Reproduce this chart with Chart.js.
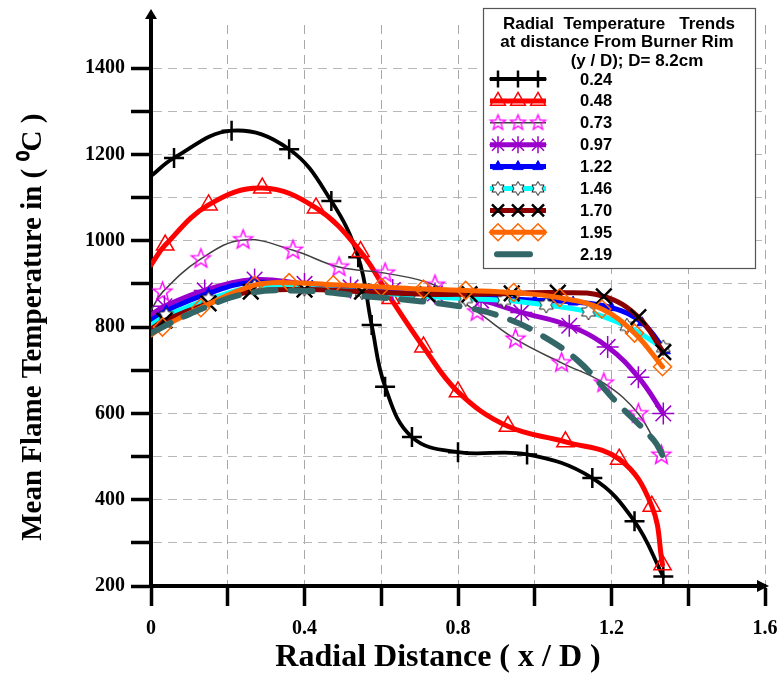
<!DOCTYPE html>
<html>
<head>
<meta charset="utf-8">
<script src="https://cdn.jsdelivr.net/npm/chart.js@4/dist/chart.umd.min.js"></script>
<style>
  html, body { margin: 0; padding: 0; background: #fff; }
  #wrap { position: relative; width: 779px; height: 677px; }
</style>
</head>
<body>
<div id="wrap"><canvas id="chart" width="779" height="677"></canvas></div>
<script>
// y / D levels shown in the legend
const levels = ['0.24', '0.48', '0.73', '0.97', '1.22', '1.46', '1.70', '1.95', '2.19'];

// radial distance x / D and temperature (deg C) for each level
const x024 = [0, 0.06, 0.21, 0.36, 0.47, 0.54, 0.575, 0.61, 0.68, 0.80, 0.98, 1.15, 1.26, 1.335];
const t024 = [1150, 1192, 1255, 1212, 1092, 962, 805, 662, 545, 510, 505, 450, 350, 222];

const x048 = [0, 0.037, 0.15, 0.29, 0.43, 0.546, 0.625, 0.71, 0.80, 0.93, 1.08, 1.22, 1.305, 1.333];
const t048 = [944, 990, 1083, 1122, 1076, 975, 866, 754, 650, 570, 534, 494, 385, 249];

const x073 = [0, 0.03, 0.13, 0.24, 0.37, 0.49, 0.61, 0.74, 0.85, 0.95, 1.07, 1.18, 1.27, 1.33];
const t073 = [839, 881, 958, 1002, 978, 939, 925, 897, 835, 772, 717, 670, 599, 503];

const x097 = [0, 0.035, 0.14, 0.27, 0.40, 0.52, 0.63, 0.74, 0.86, 0.965, 1.09, 1.19, 1.27, 1.335];
const t097 = [828, 848, 885, 910, 900, 892, 886, 878, 862, 834, 803, 754, 684, 600];

const x122 = [0, 0.04, 0.15, 0.26, 0.42, 0.59, 0.74, 0.88, 1.0, 1.1, 1.2, 1.28, 1.34];
const t122 = [815, 838, 878, 903, 895, 885, 875, 868, 862, 858, 845, 810, 745];

const x146 = [0, 0.04, 0.15, 0.27, 0.40, 0.55, 0.70, 0.82, 0.92, 1.03, 1.14, 1.24, 1.335];
const t146 = [805, 826, 864, 893, 890, 882, 872, 866, 862, 851, 835, 802, 752];

const x170 = [0, 0.035, 0.15, 0.26, 0.40, 0.55, 0.72, 0.83, 0.94, 1.06, 1.18, 1.27, 1.335];
const t170 = [795, 815, 855, 882, 887, 882, 876, 876, 878, 880, 871, 823, 742];

const x195 = [0, 0.03, 0.13, 0.27, 0.36, 0.475, 0.60, 0.71, 0.82, 0.945, 1.065, 1.175, 1.26, 1.333];
const t195 = [782, 800, 845, 897, 903, 898, 893, 888, 885, 880, 868, 842, 786, 708];

const x219 = [0, 0.1, 0.25, 0.4, 0.55, 0.7, 0.83, 0.92, 1.0, 1.11, 1.215, 1.31, 1.335];
const t219 = [786, 830, 878, 884, 872, 860, 844, 822, 790, 724, 624, 538, 500];

const yTickLabels = [200, 400, 600, 800, 1000, 1200, 1400];
const xTickLabels = [0, 0.4, 0.8, 1.2, 1.6];

function zip(xs, ys) {
  return xs.map((x, i) => ({ x: x, y: ys[i] }));
}

// custom marker shapes
function starCanvas(points, outer, inner, stroke, fill, lw) {
  const c = document.createElement('canvas');
  const s = Math.ceil(outer * 2 + lw * 2 + 2);
  c.width = s; c.height = s;
  const g = c.getContext('2d');
  g.beginPath();
  for (let i = 0; i < points * 2; i++) {
    const r = i % 2 === 0 ? outer : inner;
    const a = -Math.PI / 2 + i * Math.PI / points;
    const px = s / 2 + r * Math.cos(a);
    const py = s / 2 + r * Math.sin(a);
    if (i === 0) g.moveTo(px, py); else g.lineTo(px, py);
  }
  g.closePath();
  if (fill) { g.fillStyle = fill; g.fill(); }
  g.lineWidth = lw;
  g.strokeStyle = stroke;
  g.stroke();
  return c;
}

const pinkStar = starCanvas(5, 10, 4.2, '#ff00ff', null, 1.4);
const hexStar = starCanvas(6, 8, 4.6, '#222222', '#ffffff', 1);
const pinkStarSm = starCanvas(5, 8, 3.4, '#ff00ff', null, 1.3);
const hexStarSm = starCanvas(6, 7, 4, '#222222', '#ffffff', 1);

const noFirst = r => (ctx => ctx.dataIndex === 0 ? 0 : r);

const styles = [
  { color: '#000000', width: 3.8, marker: 'cross', r: 10, mColor: '#000000', mFill: 'rgba(0,0,0,0)', mWidth: 2.5 },
  { color: '#ff0000', width: 5, marker: 'triangle', r: 10, mColor: '#ff0000', mFill: 'rgba(0,0,0,0)', mWidth: 1.5 },
  { color: '#404040', width: 1.5, marker: pinkStar, legendMarker: pinkStarSm, r: 10, mColor: '#ff00ff', mFill: 'rgba(0,0,0,0)', mWidth: 1 },
  { color: '#9900cc', width: 5, marker: 'star', r: 11, mColor: '#9900cc', mFill: 'rgba(0,0,0,0)', mWidth: 1.5 },
  { color: '#0000ff', width: 5, marker: 'triangle', r: 6, mColor: '#0000ff', mFill: '#0000ff', mWidth: 1 },
  { color: '#00ffff', width: 5, marker: hexStar, legendMarker: hexStarSm, r: 8, mColor: '#222222', mFill: '#ffffff', mWidth: 1 },
  { color: '#8b0000', width: 5, marker: 'crossRot', r: 11, mColor: '#000000', mFill: 'rgba(0,0,0,0)', mWidth: 2.5 },
  { color: '#ff6600', width: 5, marker: 'rectRot', r: 9, mColor: '#ff6600', mFill: 'rgba(0,0,0,0)', mWidth: 1.5 },
  { color: '#336666', width: 6, marker: false, r: 0, dash: [22, 15] }
];

const series = [
  zip(x024, t024), zip(x048, t048), zip(x073, t073),
  zip(x097, t097), zip(x122, t122), zip(x146, t146),
  zip(x170, t170), zip(x195, t195), zip(x219, t219)
];

const datasets = series.map((d, i) => {
  const s = styles[i];
  return {
    label: levels[i],
    data: d,
    showLine: true,
    borderColor: s.color,
    borderWidth: s.width,
    borderDash: s.dash || [],
    borderCapStyle: 'round',
    tension: 0.4,
    pointStyle: s.marker,
    pointRadius: s.marker ? noFirst(s.r) : 0,
    pointHoverRadius: s.marker ? noFirst(s.r) : 0,
    pointBorderColor: s.mColor,
    pointBackgroundColor: s.mFill,
    pointBorderWidth: s.mWidth,
    order: -i
  };
});

const frame = {
  id: 'frame',
  afterDraw(chart) {
    const ctx = chart.ctx;
    const xs = chart.scales.x, ys = chart.scales.y;
    const x0 = xs.getPixelForValue(0);
    const y0 = ys.getPixelForValue(200);
    const top = chart.chartArea.top;
    const right = chart.chartArea.right;
    ctx.save();
    ctx.strokeStyle = '#000';
    ctx.fillStyle = '#000';
    ctx.lineWidth = 4;
    // axis arrows
    ctx.beginPath(); ctx.moveTo(x0, top); ctx.lineTo(x0, top - 8); ctx.stroke();
    ctx.beginPath(); ctx.moveTo(x0 - 6, top - 6); ctx.lineTo(x0, top - 16); ctx.lineTo(x0 + 6, top - 6); ctx.closePath(); ctx.fill();
    ctx.beginPath(); ctx.moveTo(right - 8, y0 - 6); ctx.lineTo(right + 4, y0); ctx.lineTo(right - 8, y0 + 6); ctx.closePath(); ctx.fill();

    // legend box
    const bx = 483, by = 8, bw = 272, bh = 260;
    ctx.fillStyle = '#fff';
    ctx.fillRect(bx, by, bw, bh);
    ctx.lineWidth = 1.2;
    ctx.strokeStyle = '#555';
    ctx.strokeRect(bx + 0.5, by + 0.5, bw, bh);
    ctx.fillStyle = '#000';
    ctx.font = 'bold 17px "Liberation Sans", Arial, sans-serif';
    ctx.textAlign = 'center';
    ctx.textBaseline = 'middle';
    ctx.fillText('Radial  Temperature   Trends', 619, 24);
    ctx.fillText('at distance From Burner Rim', 617, 42);
    ctx.fillText('(y / D); D= 8.2cm', 637, 61);
    ctx.font = 'bold 16.5px "Liberation Sans", Arial, sans-serif';
    ctx.textAlign = 'left';
    const helpers = Chart.helpers;
    levels.forEach((lab, i) => {
      const s = styles[i];
      const yy = 79 + i * 21.9;
      ctx.save();
      ctx.strokeStyle = s.color;
      ctx.lineWidth = s.width;
      ctx.lineCap = i === 8 ? 'round' : 'butt';
      ctx.beginPath();
      if (i === 8) { ctx.moveTo(497, yy); ctx.lineTo(530, yy); }
      else { ctx.moveTo(490, yy); ctx.lineTo(546, yy); }
      ctx.stroke();
      ctx.restore();
      if (s.marker && helpers && helpers.drawPoint) {
        const mk = s.legendMarker || s.marker;
        [498, 518, 538].forEach(mx => {
          ctx.save();
          ctx.strokeStyle = s.mColor;
          ctx.fillStyle = s.mFill;
          ctx.lineWidth = s.mWidth;
          helpers.drawPoint(ctx, { pointStyle: mk, radius: Math.min(s.r, 8.5), borderWidth: s.mWidth, rotation: 0 }, mx, yy);
          ctx.restore();
        });
      }
      ctx.fillStyle = '#000';
      ctx.fillText(lab, 580, yy + 1);
    });
    ctx.restore();
  }
};

const serif = '"Liberation Serif", "Times New Roman", serif';

new Chart(document.getElementById('chart'), {
  type: 'scatter',
  data: { datasets: datasets },
  options: {
    responsive: false,
    animation: false,
    layout: { padding: { top: 25, right: 14, left: 0, bottom: 0 } },
    plugins: {
      legend: { display: false },
      tooltip: { enabled: false }
    },
    scales: {
      x: {
        type: 'linear',
        min: 0,
        max: 1.6,
        afterFit: s => { s.height = 91; s.paddingRight = 0; s.paddingLeft = 0; },
        border: { display: true, color: '#000', width: 4, dash: [9, 6] },
        grid: {
          color: '#a8a8a8',
          lineWidth: 1,
          tickColor: '#000',
          tickWidth: 3.5,
          tickLength: 20
        },
        ticks: {
          stepSize: 0.2,
          padding: 11,
          color: '#000',
          maxRotation: 0,
          font: { family: serif, weight: 'bold', size: 20 },
          callback: v => {
            const r = Math.round(v * 10) / 10;
            return xTickLabels.some(t => Math.abs(t - r) < 1e-6) ? String(r) : '';
          }
        },
        title: {
          display: true,
          // trailing spaces nudge the centred title left, as in the original
          text: 'Radial Distance ( x / D )\u00a0\u00a0\u00a0\u00a0\u00a0',
          color: '#000',
          padding: { top: 0, bottom: 0 },
          font: { family: serif, weight: 'bold', size: 32 }
        }
      },
      y: {
        min: 200,
        max: 1500,
        afterFit: s => { s.width = 151; s.paddingTop = 0; s.paddingBottom = 0; },
        border: { display: true, color: '#000', width: 4, dash: [9, 6] },
        grid: {
          color: ctx => (ctx.tick && ctx.tick.value === 1500) ? 'rgba(0,0,0,0)' : '#b8b8b8',
          lineWidth: 1,
          tickColor: ctx => (ctx.tick && ctx.tick.value === 1500) ? 'rgba(0,0,0,0)' : '#000',
          tickWidth: 3.5,
          tickLength: 20
        },
        ticks: {
          stepSize: 100,
          padding: 6,
          color: '#000',
          font: { family: serif, weight: 'bold', size: 20 },
          callback: v => yTickLabels.includes(v) ? String(v) : ''
        },
        title: {
          display: true,
          text: 'Mean Flame Temperature in ( \u2070C )\u00a0\u00a0\u00a0\u00a0\u00a0\u00a0',
          color: '#000',
          padding: { top: 16, bottom: 0 },
          font: { family: serif, weight: 'bold', size: 29 }
        }
      }
    }
  },
  plugins: [frame]
});
</script>
</body>
</html>
